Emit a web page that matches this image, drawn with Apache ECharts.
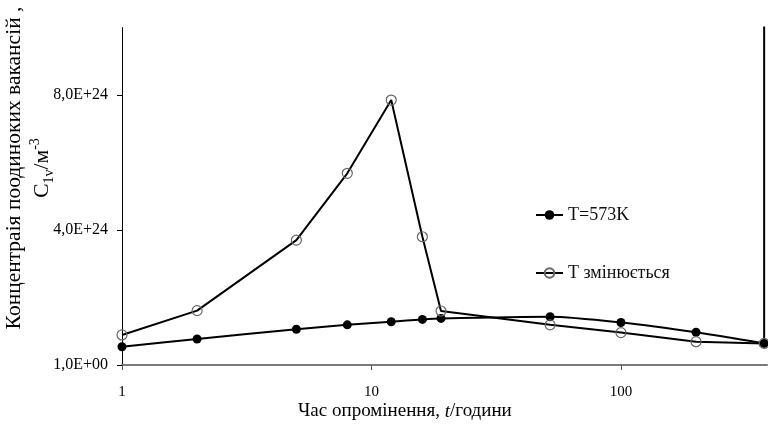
<!DOCTYPE html>
<html>
<head>
<meta charset="utf-8">
<script src="https://cdn.jsdelivr.net/npm/echarts@6/dist/echarts.min.js"></script>
<style>html,body{margin:0;padding:0;background:#fff;}#c{width:768px;height:432px;}</style>
</head>
<body>
<div id="c"></div>
<script>
var hours = [1, 2, 5, 8, 12, 16, 19, 52, 100, 200, 375];
var t573 = [0.54e24, 0.77e24, 1.06e24, 1.19e24, 1.28e24, 1.35e24, 1.38e24, 1.43e24, 1.26e24, 0.97e24, 0.64e24];
var tVar = [0.89e24, 1.61e24, 3.70e24, 5.68e24, 7.85e24, 3.80e24, 1.60e24, 1.19e24, 0.96e24, 0.69e24, 0.64e24];
var tailX = [375, 375];
var tailY = [0.64e24, 3.0e25];
var xTicks = [1, 10, 100];
var yTicks = [0, 4e24, 8e24];
var seriesNames = ['T=573K', 'Т змінюється'];

function pairs(xs, ys) { return xs.map(function (x, i) { return [x, ys[i]]; }); }
var FF = 'Liberation Serif';

var chart = echarts.init(document.getElementById('c'));
chart.setOption({
  animation: false,
  backgroundColor: '#fff',
  grid: { left: 122, right: 1, top: 27.5, bottom: 67, containLabel: false },
  xAxis: {
    type: 'log', logBase: 10, min: 1, max: 385,
    axisLine: { show: true, lineStyle: { color: '#7a7a7a', width: 2 } },
    axisTick: { show: true, inside: false, length: 5, customValues: xTicks, lineStyle: { color: '#555', width: 1 } },
    axisLabel: { customValues: xTicks, margin: 20, color: '#000', fontFamily: FF, fontSize: 15,
      formatter: function (v) { return String(Math.round(v)); } },
    splitLine: { show: false }, minorTick: { show: false }
  },
  yAxis: {
    type: 'value', min: 0, max: 1e25, interval: 4e24,
    axisLine: { show: true, lineStyle: { color: '#000', width: 1 } },
    axisTick: { show: true, inside: false, length: 5, customValues: yTicks, lineStyle: { color: '#000' } },
    axisLabel: { customValues: yTicks, margin: 14, color: '#000', fontFamily: FF, fontSize: 16,
      formatter: function (v) {
        if (v === 0) return '1,0E+00';
        return (v / 1e24).toFixed(1).replace('.', ',') + 'E+24';
      } },
    splitLine: { show: false }
  },
  legend: {
    data: seriesNames, orient: 'vertical', left: 535, top: 206, itemGap: 40, padding: 0,
    itemWidth: 27, itemHeight: 12,
    textStyle: { fontFamily: FF, fontSize: 18, color: '#111' }
  },
  graphic: [
    { type: 'text', left: 298, top: 402, style: {
      text: '{a|Час опромінення, }{i|t}{a|/години}',
      rich: { a: { fontFamily: FF, fontSize: 19, fill: '#000' }, i: { fontFamily: FF, fontSize: 19, fontStyle: 'italic', fill: '#000' } }
    } },
    { type: 'text', x: 28, y: 168, rotation: Math.PI / 2, style: {
      text: '{a|Концентраія поодиноких вакансій ,}\n{a|C}{sub|1v}{a|/м}{sup|-3}',
      align: 'center', verticalAlign: 'middle',
      rich: {
        a: { fontFamily: FF, fontSize: 21.5, fill: '#000', lineHeight: 28 },
        sub: { fontFamily: FF, fontSize: 14, fill: '#000', lineHeight: 28, verticalAlign: 'bottom' },
        sup: { fontFamily: FF, fontSize: 14, fill: '#000', lineHeight: 28, verticalAlign: 'top' }
      }
    } }
  ],
  series: [
    { name: seriesNames[0], type: 'line', data: pairs(hours, t573), smooth: 0.25,
      symbol: 'circle', symbolSize: 9, clip: true,
      itemStyle: { color: '#000', borderColor: '#000', borderWidth: 0 },
      lineStyle: { color: '#000', width: 2 } },
    { name: seriesNames[1], type: 'line', data: pairs(hours, tVar), smooth: false,
      symbol: 'circle', symbolSize: 10, clip: true,
      itemStyle: { color: 'rgba(255,255,255,0)', borderColor: '#666', borderWidth: 1.2 },
      lineStyle: { color: '#000', width: 2 } },
    { name: 'tail', type: 'line', data: pairs(tailX, tailY), symbol: 'none', clip: true,
      lineStyle: { color: '#000', width: 2 }, silent: true }
  ]
});
</script>
</body>
</html>
